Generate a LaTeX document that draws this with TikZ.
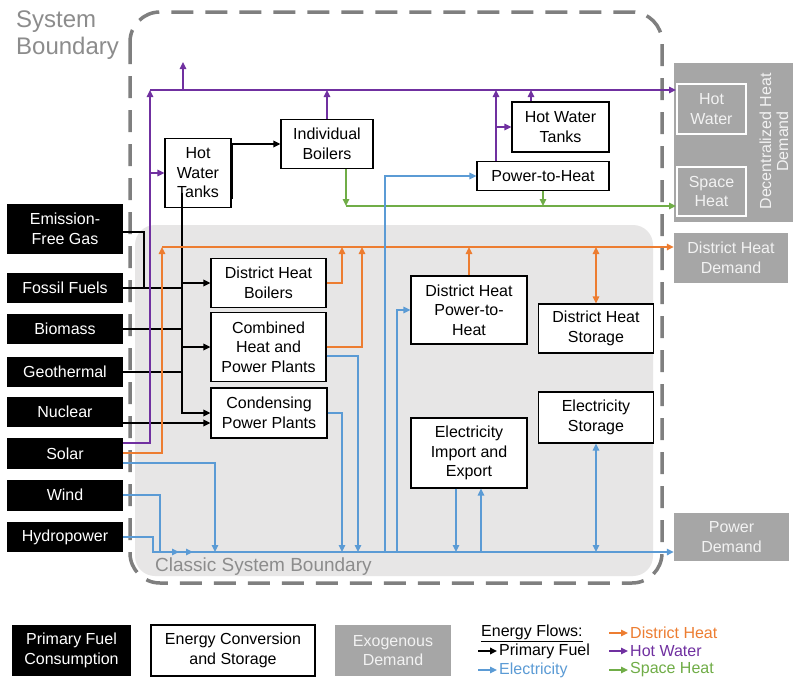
\documentclass[tikz,border=0pt]{standalone}
\usepackage{fontspec}
\setmainfont{Liberation Sans}
\usetikzlibrary{arrows.meta,calc}
\definecolor{cpurple}{HTML}{7030A0}
\definecolor{corange}{HTML}{ED7D31}
\definecolor{cblue}{HTML}{5B9BD5}
\definecolor{cgreen}{HTML}{70AD47}
\definecolor{bndgray}{HTML}{7F7F7F}
\definecolor{titlegray}{HTML}{8C8C8C}
\definecolor{classic}{HTML}{E7E6E6}
\definecolor{demgray}{HTML}{A6A6A6}
\definecolor{demtext}{HTML}{F2F2F2}
\tikzset{
  every node/.style={font=\fontsize{16}{19.5}\selectfont, inner sep=0pt, align=center},
  fuelbox/.style={fill=black, text=white, minimum width=116pt},
  convbox/.style={draw=black, line width=1.2pt, fill=white},
  demandbox/.style={fill=demgray, text=demtext},
  subbox/.style={draw=white, line width=2pt, fill=demgray, text=demtext},
  tipend/.style={arrows={-Triangle[length=7pt,width=6.5pt]}},
  tipboth/.style={arrows={Triangle[length=7pt,width=6.5pt]-Triangle[length=7pt,width=6.5pt]}},
  pline/.style={draw=cpurple, line width=1.5pt, tipend},
  gline/.style={draw=cgreen, line width=1.5pt, tipend},
  oline/.style={draw=corange, line width=1.5pt, tipend},
  bline/.style={draw=cblue, line width=1.5pt, tipend},
  kline/.style={draw=black, line width=2pt},
  karrow/.style={tipend},
}
\begin{document}
\begin{tikzpicture}[x=1pt,y=-1pt]
\useasboundingbox (0,0) rectangle (793,680);
\fill[white] (0,0) rectangle (793,680);
% classic system boundary
\fill[classic, rounded corners=20pt] (135,225) rectangle (653,576);
% system boundary
\draw[bndgray, line width=3.5pt, dash pattern=on 22pt off 12pt, rounded corners=30pt] (130,12) rectangle (662,583);
\node[anchor=north west, align=left, text=titlegray, font=\fontsize{24}{27}\selectfont] (sbt) at (16,11) {System\\Boundary};
\node[anchor=west, text=titlegray, font=\fontsize{19}{22}\selectfont] (csb) at (155,567) {Classic System Boundary};

% primary fuels
\node[fuelbox, minimum height=50pt] (efg) at (65,229) {Emission-\\Free Gas};
\node[fuelbox, minimum height=30pt] (ff) at (65,288) {Fossil Fuels};
\node[fuelbox, minimum height=30pt] (bio) at (65,329) {Biomass};
\node[fuelbox, minimum height=30pt] (geo) at (65,372) {Geothermal};
\node[fuelbox, minimum height=30pt] (nuc) at (65,412) {Nuclear};
\node[fuelbox, minimum height=31pt] (sol) at (65,453.5) {Solar};
\node[fuelbox, minimum height=31pt] (wind) at (65,495) {Wind};
\node[fuelbox, minimum height=30pt] (hyd) at (65,537) {Hydropower};

% conversion and storage
\node[convbox, minimum width=66pt, minimum height=69pt] (hwt1) at (198,173) {Hot\\Water\\Tanks};
\node[convbox, minimum width=92pt, minimum height=49pt] (ib) at (327,144) {Individual\\Boilers};
\node[convbox, minimum width=97pt, minimum height=50pt] (hwt2) at (560.5,127) {Hot Water\\Tanks};
\node[convbox, minimum width=132pt, minimum height=29pt] (p2h) at (543,176) {Power-to-Heat};
\node[convbox, minimum width=115pt, minimum height=49pt] (dhb) at (268.5,283) {District Heat\\Boilers};
\node[convbox, minimum width=115pt, minimum height=69pt] (chp) at (268.5,347) {Combined\\Heat and\\Power Plants};
\node[convbox, minimum width=116pt, minimum height=50pt] (cpp) at (269,413) {Condensing\\Power Plants};
\node[convbox, minimum width=116pt, minimum height=68pt] (dhp) at (469,310) {District Heat\\Power-to-\\Heat};
\node[convbox, minimum width=115pt, minimum height=49pt] (dhs) at (596,328.5) {District Heat\\Storage};
\node[convbox, minimum width=115pt, minimum height=51pt] (es) at (596,417.5) {Electricity\\Storage};
\node[convbox, minimum width=116pt, minimum height=70pt] (eie) at (469,453) {Electricity\\Import and\\Export};

% demand
\node[demandbox, minimum width=126pt, minimum height=159pt] (dec) at (737,142.5) {};
\node[subbox, minimum width=69pt, minimum height=50pt] (hwd) at (711.5,109) {Hot\\Water};
\node[subbox, minimum width=69pt, minimum height=49pt] (shd) at (711.5,191.5) {Space\\Heat};
\node[rotate=90, text=demtext, font=\fontsize{16}{17}\selectfont] (dectxt) at (774,141.5) {Decentralized Heat\\Demand};
\node[demandbox, minimum width=114pt, minimum height=50pt] (dhd) at (731,258) {District Heat\\Demand};
\node[demandbox, minimum width=115pt, minimum height=48pt] (pd) at (731.5,537) {Power\\Demand};

% ---- primary fuel (black)
\coordinate (busT) at (182,193);
\coordinate (gasx) at (144,0);
\coordinate (efgout) at ([yshift=-3pt]efg.east);
\draw[kline] (efgout) -| (gasx |- ff.east);
\draw[kline] (ff.east) -- (ff.east -| busT);
\draw[kline] (bio.east) -- (bio.east -| busT);
\draw[kline] (geo.east) -- (geo.east -| busT);
\draw[kline,karrow] (busT) |- (cpp.west);
\draw[kline,karrow] (busT |- dhb.west) -- (dhb.west);
\draw[kline,karrow] (busT |- chp.west) -- (chp.west);
\coordinate (nucout) at ([yshift=-11pt]nuc.east);
\draw[kline,karrow] (nucout) -- (nucout -| cpp.west);
\coordinate (tk) at (232,199);
\draw[kline,karrow] (tk) |- (ib.west);

% ---- hot water (purple)
\coordinate (hwL) at (150,90);
\draw[pline] (hwL) -- (hwL -| hwd.west);
\draw[pline] ([yshift=10.5pt]sol.east) -| (hwL);
\draw[pline] (hwL |- hwt1.west) -- (hwt1.west);
\coordinate (hwexp) at (183,62);
\draw[pline] (hwexp |- hwL) -- (hwexp);
\draw[pline] (ib.north) -- (ib.north |- hwL);
\coordinate (p2hup) at ([xshift=-47pt]p2h.north);
\draw[pline] (p2hup) -- (p2hup |- hwL);
\draw[pline] (p2hup |- hwt2.west) -- (hwt2.west);
\coordinate (hwt2up) at ([xshift=-29.5pt]hwt2.north);
\draw[pline] (hwt2up) -- (hwt2up |- hwL);

% ---- space heat (green)
\coordinate (gL) at (346,206);
\draw[gline] (ib.south -| gL) -- (gL);
\draw[gline] (gL) -- (gL -| shd.west);
\draw[gline] (p2h.south) -- (p2h.south |- gL);

% ---- district heat (orange)
\coordinate (oL) at (162,247);
\draw[oline] (oL) -- (oL -| dhd.west);
\draw[oline] ([yshift=0.5pt]sol.east) -| (oL);
\coordinate (o1) at (342,247);
\draw[oline] (dhb.east) -| (o1);
\coordinate (o2) at (362,247);
\draw[oline] (chp.east) -| (o2);
\draw[oline] (dhp.north) -- (dhp.north |- oL);
\draw[oline,tipboth] (dhs.north) -- (dhs.north |- oL);

% ---- electricity (blue)
\coordinate (bL) at (153,552);
\draw[bline] (bL) -- (bL -| pd.west);
\coordinate (ah1) at (179,552);
\coordinate (ah2) at (193,552);
\coordinate (wx) at (160,552);
\draw[bline] (hyd.east) -| (bL) -- (ah1);
\draw[bline] (wind.east) -| (wx) -- (ah2);
\coordinate (sx) at (215,552);
\draw[bline] ([yshift=-9.5pt]sol.east) -| (sx);
\coordinate (cx) at (358,552);
\draw[bline] ([yshift=-9pt]chp.east) -| (cx);
\coordinate (kx) at (342,552);
\draw[bline] (cpp.east) -| (kx);
\coordinate (f1) at (385,552);
\draw[bline] (f1) |- (p2h.west);
\coordinate (f2) at (397,552);
\draw[bline] (f2) |- (dhp.west);
\coordinate (eid) at ([xshift=-13pt]eie.south);
\draw[bline] (eid) -- (eid |- bL);
\coordinate (eiu) at ([xshift=12pt]eie.south);
\draw[bline] (eiu |- bL) -- (eiu);
\draw[bline,tipboth] (es.south) -- (es.south |- bL);

% ---- legend
\node[fuelbox, minimum width=119pt, minimum height=51pt] (lgf) at (71.5,650.5) {Primary Fuel\\Consumption};
\node[convbox, minimum width=164pt, minimum height=51pt] (lgc) at (233,650.5) {Energy Conversion\\and Storage};
\node[demandbox, minimum width=116pt, minimum height=51pt] (lgd) at (393,650.5) {Exogenous\\Demand};
\node[anchor=west] (lgt) at (481,633) {\underline{Energy Flows:}};
\node[anchor=west] (lk) at (499,651) {Primary Fuel};
\node[anchor=west, text=cblue] (lb) at (499,670) {Electricity};
\node[anchor=west, text=corange] (lo) at (630,633) {District Heat};
\node[anchor=west, text=cpurple] (lp) at (630,651) {Hot Water};
\node[anchor=west, text=cgreen] (lg) at (630,670) {Space Heat};
\draw[kline,karrow] ([xshift=-21pt]lk.west) -- ([xshift=-2pt]lk.west);
\draw[bline] ([xshift=-21pt]lb.west) -- ([xshift=-2pt]lb.west);
\draw[oline] ([xshift=-21pt]lo.west) -- ([xshift=-2pt]lo.west);
\draw[pline] ([xshift=-21pt]lp.west) -- ([xshift=-2pt]lp.west);
\draw[gline] ([xshift=-21pt]lg.west) -- ([xshift=-2pt]lg.west);
\end{tikzpicture}
\end{document}
